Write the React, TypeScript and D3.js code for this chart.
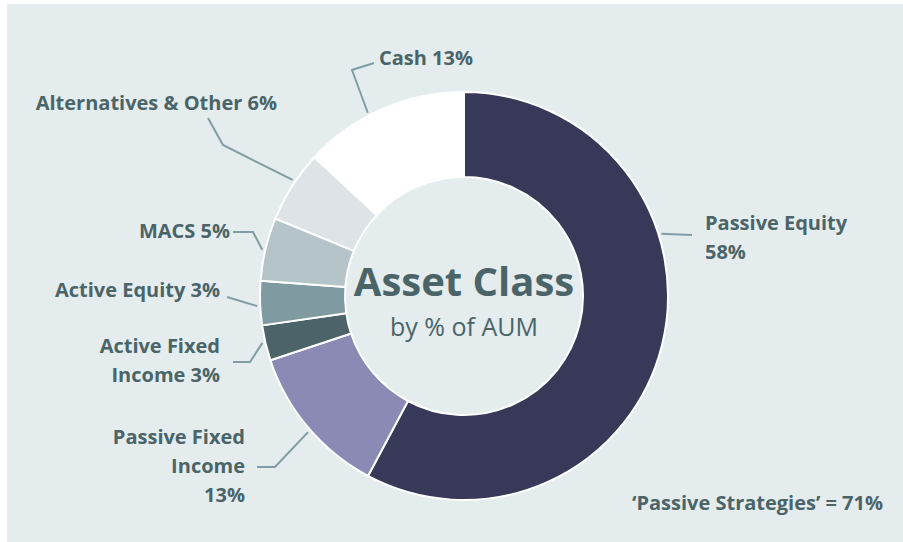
import React, { useRef, useEffect } from 'react';
import * as d3 from 'd3';

// slice shares (angles), clockwise from 12 o'clock
const categories = [
  'Passive Equity',
  'Passive Fixed Income',
  'Active Fixed Income',
  'Active Equity',
  'MACS',
  'Alternatives & Other',
  'Cash',
];
const shares = [57.8, 12.1, 2.8, 3.5, 5.0, 5.7, 13.1];
const sliceColors = ['#383858', '#8a8ab4', '#4b6369', '#7f9aa0', '#b4c4c8', '#dde3e6', '#ffffff'];
const labelLines = [
  ['Passive Equity', '58%'],
  ['Passive Fixed', 'Income', '13%'],
  ['Active Fixed', 'Income 3%'],
  ['Active Equity 3%'],
  ['MACS 5%'],
  ['Alternatives & Other 6%'],
  ['Cash 13%'],
];
const centerTitle = 'Asset Class';
const centerSub = 'by % of AUM';
const footnote = '\u2018Passive Strategies\u2019 = 71%';

const W = 903;
const H = 542;
const TEXT = '#4a6468';
const LINE = '#7f9ea3';

// where each leader touches the ring (degrees clockwise from top), its elbows, and the text spot
const labelLayout = [
  { angle: 72.5, pts: [[692, 235]], x: 705, y: 230, anchor: 'start' },
  { angle: 228.9, pts: [[275, 467], [257, 467]], x: 245, y: 444, anchor: 'end' },
  { angle: 256.9, pts: [[250, 362], [233, 362]], x: 220, y: 353, anchor: 'end' },
  { angle: 267.2, pts: [[227, 297]], x: 220, y: 297, anchor: 'end' },
  { angle: 282.9, pts: [[253, 232], [233, 232]], x: 230, y: 238, anchor: 'end' },
  { angle: 304.1, pts: [[223, 145], [208, 118]], x: 277, y: 110, anchor: 'end' },
  { angle: 332.3, pts: [[352, 70], [374, 63]], x: 379, y: 65, anchor: 'start' },
];

const App = () => {
  const svgRef = useRef<SVGSVGElement>(null);

  useEffect(() => {
    const svg = d3.select(svgRef.current);
    svg.selectAll('*').remove();

    const cx = 464;
    const cy = 296;
    const outerR = 204;
    const innerR = 119;

    // background panel
    svg.append('rect').attr('width', W).attr('height', H).attr('fill', '#ffffff');
    svg
      .append('rect')
      .attr('x', 7)
      .attr('y', 4)
      .attr('width', W - 7)
      .attr('height', H - 4)
      .attr('fill', '#e4ecee');

    const data = categories.map((c, i) => ({ name: c, value: shares[i], color: sliceColors[i] }));

    const pie = d3
      .pie<any>()
      .sort(null)
      .value(d => d.value);

    const arc = d3
      .arc<any>()
      .innerRadius(innerR)
      .outerRadius(outerR);

    const chart = svg.append('g').attr('transform', `translate(${cx},${cy})`);

    chart
      .selectAll('.slice')
      .data(pie(data))
      .enter()
      .append('path')
      .attr('class', 'slice')
      .attr('d', arc)
      .attr('fill', d => d.data.color)
      .attr('stroke', '#ffffff')
      .attr('stroke-width', 2)
      .attr('stroke-linejoin', 'round');

    // leader lines + labels
    const line = d3.line();
    labelLayout.forEach((lay, i) => {
      const a = (lay.angle * Math.PI) / 180;
      const r = outerR + 3;
      const start: [number, number] = [cx + r * Math.sin(a), cy - r * Math.cos(a)];
      const pts = [start, ...(lay.pts as [number, number][])];
      svg
        .append('path')
        .attr('d', line(pts))
        .attr('fill', 'none')
        .attr('stroke', LINE)
        .attr('stroke-width', 2);

      const t = svg
        .append('text')
        .attr('x', lay.x)
        .attr('y', lay.y)
        .attr('text-anchor', lay.anchor)
        .attr('font-family', '"Open Sans", sans-serif')
        .attr('font-weight', 'bold')
        .attr('font-size', '20px')
        .attr('fill', TEXT);
      labelLines[i].forEach((s, j) => {
        t.append('tspan')
          .attr('x', lay.x)
          .attr('dy', j === 0 ? 0 : 29)
          .text(s);
      });
    });

    // centre text
    svg
      .append('text')
      .attr('x', cx)
      .attr('y', 296)
      .attr('text-anchor', 'middle')
      .attr('font-family', '"Open Sans", sans-serif')
      .attr('font-weight', 'bold')
      .attr('font-size', '40px')
      .attr('fill', TEXT)
      .text(centerTitle);

    svg
      .append('text')
      .attr('x', cx)
      .attr('y', 336)
      .attr('text-anchor', 'middle')
      .attr('font-family', '"Open Sans", sans-serif')
      .attr('font-size', '25px')
      .attr('fill', TEXT)
      .text(centerSub);

    svg
      .append('text')
      .attr('x', 883)
      .attr('y', 510)
      .attr('text-anchor', 'end')
      .attr('font-family', '"Open Sans", sans-serif')
      .attr('font-weight', 'bold')
      .attr('font-size', '20px')
      .attr('fill', TEXT)
      .text(footnote);
  }, []);

  return (
    <svg
      ref={svgRef}
      width={W}
      height={H}
      style={{ position: 'absolute', left: 0, top: 0, display: 'block' }}
    ></svg>
  );
};

export default App;
